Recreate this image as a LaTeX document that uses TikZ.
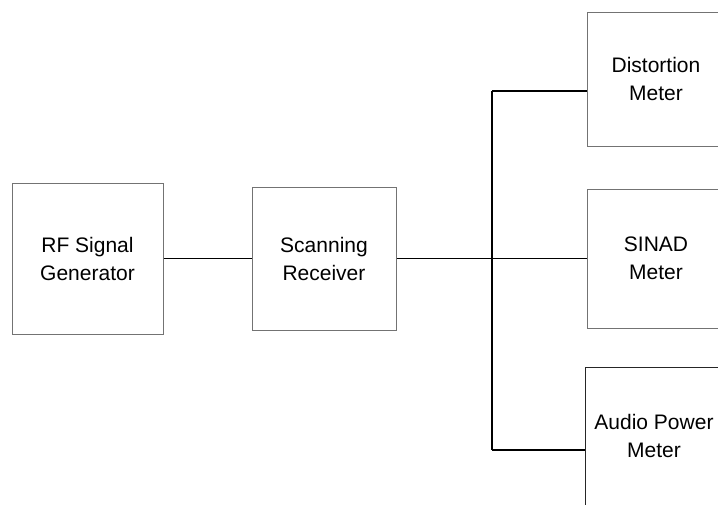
\documentclass[tikz,border=0pt]{standalone}
\usepackage{fontspec}
\setmainfont{Liberation Sans}
\begin{document}
\begin{tikzpicture}[x=1pt,y=-1pt,
  blk/.style={draw=black!55, line width=1pt, align=center, inner sep=0pt,
    font=\fontsize{21}{28}\selectfont, anchor=center},
  wire/.style={draw=black, line width=1.6pt}]
\useasboundingbox (0,0) rectangle (718,504);
\clip (0,0) rectangle (718,504);
\node[blk, minimum width=151pt, minimum height=151pt] (rf) at (87.5,258.5) {RF Signal\\Generator};
\node[blk, minimum width=144pt, minimum height=143pt] (scan) at (324,258.5) {Scanning\\Receiver};
\node[blk, minimum width=138pt, minimum height=134pt] (dist) at (656,79) {Distortion\\Meter};
\node[blk, minimum width=138pt, minimum height=139pt] (sinad) at (656,258.5) {SINAD\\Meter};
\node[blk, draw=black!85, minimum width=138pt, minimum height=138pt] (audio) at (654,436) {Audio Power\\Meter};
\coordinate (j) at (492,258.5);
\coordinate (jt) at (492,91);
\coordinate (jb) at (492,450);
\draw[wire] (rf.east) -- (scan.west);
\draw[wire] (scan.east) -- (j) -- (sinad.west);
\draw[wire] (jt) -- (jb);
\draw[wire] (jt) -- (dist.west |- jt);
\draw[wire] (jb) -- (audio.west |- jb);
\end{tikzpicture}
\end{document}
